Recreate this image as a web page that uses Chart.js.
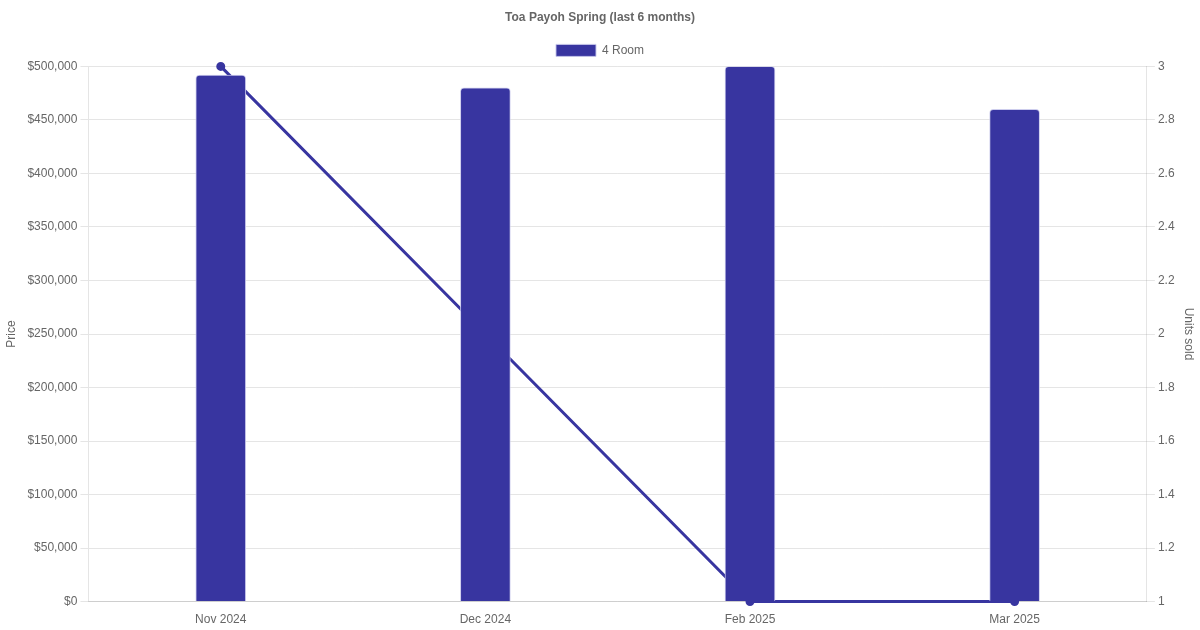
<!DOCTYPE html>
<html>
<head>
<meta charset="utf-8">
<script src="https://cdn.jsdelivr.net/npm/chart.js@4"></script>
<style>
html,body{margin:0;padding:0;background:#fff;}
#wrap{width:1200px;height:630px;}
</style>
</head>
<body>
<div id="wrap"><canvas id="c"></canvas></div>
<script>
const categories = ["Nov 2024", "Dec 2024", "Feb 2025", "Mar 2025"];
const priceValues = [492000, 480000, 500000, 460000];
const unitsSold = [3, 2, 1, 1];
const chartTitle = "Toa Payoh Spring (last 6 months)";

Chart.defaults.font.family = "'Liberation Sans', Helvetica, Arial, sans-serif";
Chart.defaults.color = "#666";

new Chart(document.getElementById('c'), {
  data: {
    labels: categories,
    datasets: [
      {
        type: 'bar',
        label: '4 Room',
        data: priceValues,
        backgroundColor: '#3835a0',
        borderColor: 'rgba(200,200,235,0.9)',
        borderWidth: 1,
        borderRadius: 4,
        borderSkipped: 'bottom',
        barThickness: 50,
        yAxisID: 'y'
      },
      {
        type: 'line',
        label: 'Units',
        data: unitsSold,
        borderColor: '#3835a0',
        backgroundColor: '#3835a0',
        borderWidth: 3,
        pointRadius: 3,
        tension: 0,
        fill: false,
        yAxisID: 'y1'
      }
    ]
  },
  options: {
    responsive: true,
    maintainAspectRatio: false,
    animation: false,
    plugins: {
      title: {
        display: true,
        text: chartTitle,
        font: { size: 12, weight: 'bold' },
        color: '#666'
      },
      legend: {
        labels: {
          filter: (item) => item.datasetIndex === 0,
          boxWidth: 40,
          boxHeight: 12
        }
      },
      tooltip: { enabled: false }
    },
    scales: {
      x: {
        grid: { display: false },
        ticks: { color: '#666' }
      },
      y: {
        position: 'left',
        beginAtZero: true,
        title: { display: true, text: 'Price' },
        afterFit: (s) => { s.width += 2; },
        ticks: {
          color: '#666',
          callback: (v) => '$' + Number(v).toLocaleString('en-US')
        }
      },
      y1: {
        position: 'right',
        title: { display: true, text: 'Units sold' },
        grid: { drawOnChartArea: false },
        ticks: { color: '#666', callback: (v) => String(Math.round(v * 10) / 10) }
      }
    }
  }
});
</script>
</body>
</html>
